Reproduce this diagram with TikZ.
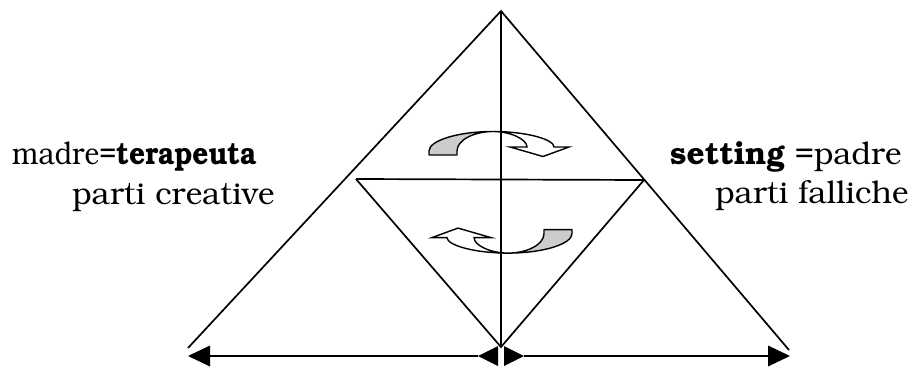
\documentclass[tikz,border=0pt]{standalone}
\usepackage[T1]{fontenc}
\usepackage{bookman}
\usetikzlibrary{arrows.meta}
\definecolor{tailgray}{RGB}{204,204,204}
\tikzset{
  triline/.style={line width=1.7pt, line join=miter},
  baseline arrow/.style={line width=2.3pt,
    {Triangle[reversed,length=20pt,width=20pt,line width=0pt]}-{Triangle[length=22pt,width=21pt,line width=0pt]}},
  tailpart/.style={fill=tailgray, draw=black, line width=1.4pt, line join=round},
  headpart/.style={fill=white, draw=black, line width=1.4pt, line join=miter},
  lbl/.style={inner sep=0pt, anchor=base west, font=\fontsize{31.5}{36}\selectfont}
}
\begin{document}
\begin{tikzpicture}[x=1pt,y=-1pt]
\useasboundingbox (0,0) rectangle (914,367);
% named points
\coordinate (apex) at (501,11);
\coordinate (bl) at (188,348);
\coordinate (br) at (789,350);
\coordinate (il) at (356,179);
\coordinate (ir) at (644,180);
\coordinate (ib) at (501,347);
\coordinate (Lend) at (188,356);
\coordinate (Lstart) at (498,356);
\coordinate (Rstart) at (504,356);
\coordinate (Rend) at (790,356);
% curved arrows
\foreach \ang in {0,180}{
\begin{scope}[rotate around={\ang:(500.5,192.3)}]
  \path[tailpart] (429,155) -- (429,151) .. controls (429,140.5) and (458,131.5) .. (493,131.5)
     .. controls (474,131.5) and (457,140) .. (457,151) -- (457,155) -- cycle;
  \path[headpart] (493,131.5) .. controls (527,131.5) and (554,139.5) .. (554,147)
     -- (569,147) -- (543,156.5) -- (510,147) -- (527,147)
     .. controls (527,139.5) and (511,131.5) .. (493,131.5) -- cycle;
\end{scope}}
% big triangle and inner triangle
\draw[triline] (bl) -- (apex) -- (br);
\draw[triline] (il) -- (ir);
\draw[triline] (il) -- (ib) -- (ir);
\draw[triline] (apex) -- (ib);
% base arrows
\draw[baseline arrow] (Lstart) -- (Lend);
\draw[baseline arrow] (Rstart) -- (Rend);
% labels
\node[lbl] (t1) at (12,164) {\scalebox{0.89}[1]{madre=\textbf{terapeuta}}};
\node[lbl] (t2) at (72,204) {parti creative};
\node[lbl] (t3) at (670,164) {\textbf{setting} =padre};
\node[lbl] (t4) at (715,203) {parti falliche};
\end{tikzpicture}
\end{document}
